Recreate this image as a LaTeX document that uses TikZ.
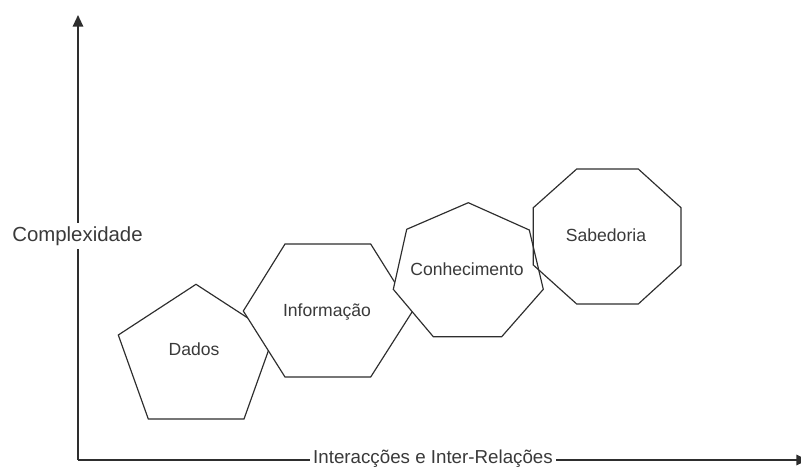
\documentclass[tikz,border=0pt]{standalone}
\usepackage{fontspec}
\setmainfont{Liberation Sans}
\usetikzlibrary{arrows.meta}
\definecolor{inkline}{HTML}{2E2E2E}
\definecolor{inktext}{HTML}{3A3A3A}
\tikzset{
  axisline/.style={draw=inkline, line width=1.3pt,
    -{Triangle[length=10pt,width=9pt]}},
  polyline/.style={draw=inkline, line width=1.0pt, line join=miter},
  polyfill/.style={fill=white},
  shapelabel/.style={text=inktext, font=\fontsize{15}{18}\selectfont, anchor=base, inner sep=0pt},
  axislabel/.style={text=inktext, fill=white, anchor=base, inner ysep=3pt, inner xsep=3pt},
}
\begin{document}
\begin{tikzpicture}[x=0.03cm, y=-0.03cm]
  \useasboundingbox (0,0) rectangle (801,467);

  % axes
  \coordinate (origin) at (78,460);
  \coordinate (ytip) at (78,15);
  \coordinate (xtip) at (808,460);
  \draw[axisline] (origin) -- (ytip);
  \draw[axisline] (origin) -- (xtip);

  % axis labels
  \node[axislabel, font=\fontsize{17.4}{20}\selectfont] (ylab) at (77.5,241.5) {Complexidade};
  \node[axislabel, font=\fontsize{16}{19}\selectfont] (xlab) at (433,463) {Interacções e Inter-Relações};

  % Dados: pentagon
  \path[polyline, polyfill] (196,284.3) -- (274,335) -- (244,419) -- (148.3,419) -- (118.3,335) -- cycle;
  % Informação: hexagon
  \path[polyline, polyfill] (285,244) -- (370.7,244) -- (412.7,311) -- (370.7,377) -- (285,377) -- (243.3,311) -- cycle;
  % Conhecimento: heptagon
  \path[polyline, polyfill] (468.3,202.7) -- (529.3,230) -- (543.3,289.3) -- (501.7,336.7) -- (433.3,336.7) -- (393.3,289.3) -- (406.7,229.3) -- cycle;
  % Sabedoria: octagon
  \path[polyline] (576.7,169) -- (638.3,169) -- (681,207.7) -- (681,265) -- (638.3,304) -- (576.7,304) -- (533.3,265) -- (533.3,207.7) -- cycle;

  % labels of the shapes
  \node[shapelabel] (dados) at (194,355.5) {Dados};
  \node[shapelabel] (info) at (327,316) {Informação};
  \node[shapelabel] (conh) at (467,275) {Conhecimento};
  \node[shapelabel] (sab) at (606,241) {Sabedoria};
\end{tikzpicture}
\end{document}
